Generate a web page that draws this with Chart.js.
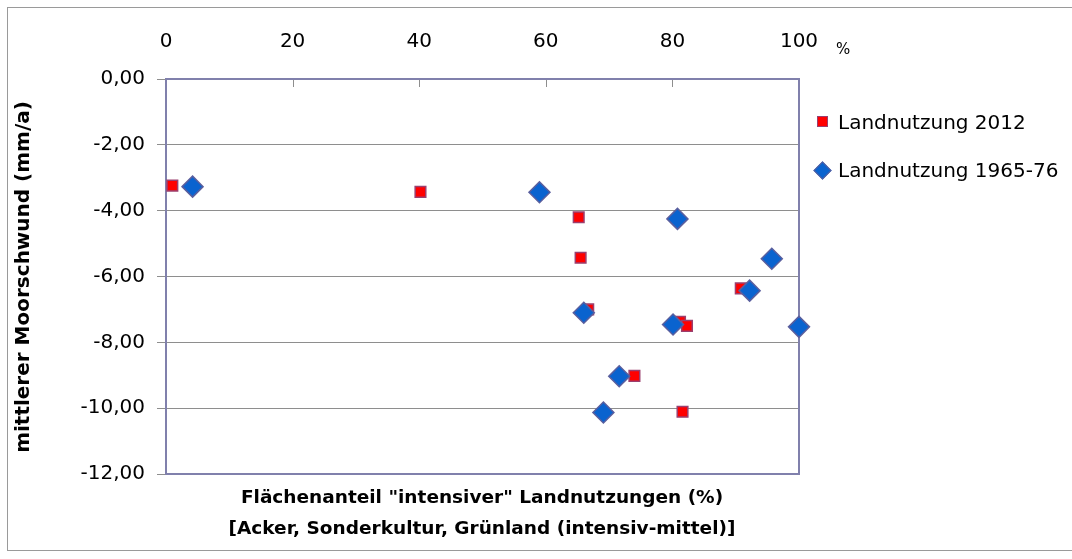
<!DOCTYPE html>
<html>
<head>
<meta charset="utf-8">
<script src="https://cdn.jsdelivr.net/npm/chart.js@4.4.1/dist/chart.umd.min.js"></script>
<style>
  html, body { margin: 0; padding: 0; background: #ffffff; overflow: hidden; }
  #wrap { position: relative; width: 1072px; height: 559px; overflow: hidden; font-family: "DejaVu Sans", sans-serif; }
  #c { position: absolute; left: 0; top: 0; }
  #frame { position: absolute; left: 7px; top: 7px; width: 1200px; height: 544px; border: 1.5px solid #9a9a9a; border-right: none; box-sizing: border-box; pointer-events: none; }
  #ytitle { position: absolute; left: 22px; top: 277px; transform: translate(-50%, -50%) rotate(-90deg); white-space: nowrap; font-weight: bold; font-size: 20px; color: #000; }
  #xtitle { position: absolute; left: 482px; top: 481px; transform: translateX(-50%); white-space: nowrap; font-weight: bold; font-size: 18.5px; line-height: 31px; text-align: center; color: #000; }
  #pct { position: absolute; left: 836px; top: 40px; font-size: 15px; color: #000; }
  .leg { position: absolute; left: 838px; font-size: 20px; color: #000; white-space: nowrap; line-height: 24px; }
  .sq { position: absolute; width: 11px; height: 11px; background: #ff0000; border: 1.5px solid #9b3f6e; box-sizing: border-box; }
  .dm { position: absolute; width: 13px; height: 13px; background: #0a63cf; border: 1.5px solid #5a5f9e; box-sizing: border-box; transform: rotate(45deg); }
</style>
</head>
<body>
<div id="wrap">
  <canvas id="c" width="1072" height="559"></canvas>
  <div id="frame"></div>
  <div id="ytitle">mittlerer Moorschwund (mm/a)</div>
  <div id="xtitle">Flächenanteil "intensiver" Landnutzungen (%)<br>[Acker, Sonderkultur, Grünland (intensiv-mittel)]</div>
  <div id="pct">%</div>
  <div class="sq" style="left:817px; top:116px;"></div>
  <div class="leg" style="top:110px;">Landnutzung 2012</div>
  <div class="dm" style="left:816px; top:164px;"></div>
  <div class="leg" style="top:158px;">Landnutzung 1965-76</div>
</div>
<script>
// ---- data ----
const seriesNames = ["Landnutzung 2012", "Landnutzung 1965-76"];
const share2012 = [1.0, 40.2, 65.2, 65.5, 66.7, 81.2, 82.3, 90.8, 74.0, 81.6];
const loss2012  = [-3.24, -3.43, -4.20, -5.43, -7.00, -7.38, -7.50, -6.36, -9.02, -10.11];
const share1965 = [4.2, 59.0, 80.8, 95.7, 92.2, 66.0, 80.1, 100.0, 71.6, 69.1];
const loss1965  = [-3.27, -3.44, -4.25, -5.46, -6.43, -7.10, -7.46, -7.53, -9.03, -10.13];
const xTicks = [0, 20, 40, 60, 80, 100];
const yTicks = [0, -2, -4, -6, -8, -10, -12];

const toPts = (xs, ys) => xs.map((x, i) => ({ x: x, y: ys[i] }));

const axisColor = '#8080ac';
const gridColor = '#8e8e8e';

const frameBox = {
  id: 'frameBox',
  beforeDatasetsDraw(chart) {
    const { ctx, chartArea: a, scales } = chart;
    ctx.save();
    ctx.strokeStyle = gridColor;
    ctx.lineWidth = 1;
    xTicks.forEach(v => {
      const px = Math.round(scales.x.getPixelForValue(v)) + 0.5;
      ctx.beginPath();
      ctx.moveTo(px, a.top);
      ctx.lineTo(px, a.top + 8);
      ctx.stroke();
    });
    ctx.strokeStyle = axisColor;
    ctx.lineWidth = 2;
    ctx.strokeRect(a.left, a.top, a.right - a.left, a.bottom - a.top);
    ctx.restore();
  }
};

new Chart(document.getElementById('c'), {
  type: 'scatter',
  data: {
    datasets: [
      {
        label: seriesNames[0],
        data: toPts(share2012, loss2012),
        pointStyle: 'rect',
        pointRadius: 7.5,
        pointHoverRadius: 7.5,
        backgroundColor: '#ff0000',
        borderColor: '#9b3f6e',
        borderWidth: 1.5,
        order: 1,
        clip: false
      },
      {
        label: seriesNames[1],
        data: toPts(share1965, loss1965),
        pointStyle: 'rectRot',
        pointRadius: 10.5,
        pointHoverRadius: 10.5,
        backgroundColor: '#0a63cf',
        borderColor: '#5a5f9e',
        borderWidth: 1.5,
        order: 0,
        clip: false
      }
    ]
  },
  options: {
    responsive: false,
    animation: false,
    devicePixelRatio: 1,
    layout: { padding: { left: 0, top: 0, right: 273, bottom: 85 } },
    plugins: { legend: { display: false }, tooltip: { enabled: false } },
    scales: {
      x: {
        type: 'linear',
        position: 'top',
        min: 0, max: 100,
        afterFit(s) { s.height = 79; },
        afterBuildTicks(s) { s.ticks = xTicks.map(v => ({ value: v })); },
        ticks: { padding: 25, color: '#000', font: { family: 'DejaVu Sans', size: 20 }, maxRotation: 0 },
        grid: { drawOnChartArea: false, drawTicks: false },
        border: { display: true, color: axisColor, width: 2 }
      },
      y: {
        type: 'linear',
        min: -12, max: 0,
        afterFit(s) { s.width = 166; },
        afterBuildTicks(s) { s.ticks = yTicks.map(v => ({ value: v })); },
        ticks: {
          padding: 12, color: '#000', font: { family: 'DejaVu Sans', size: 20 },
          callback: v => v.toFixed(2).replace('.', ',')
        },
        grid: { color: gridColor, lineWidth: 1, tickLength: 9 },
        border: { display: true, color: axisColor, width: 2 }
      }
    }
  },
  plugins: [frameBox]
});
</script>
</body>
</html>
